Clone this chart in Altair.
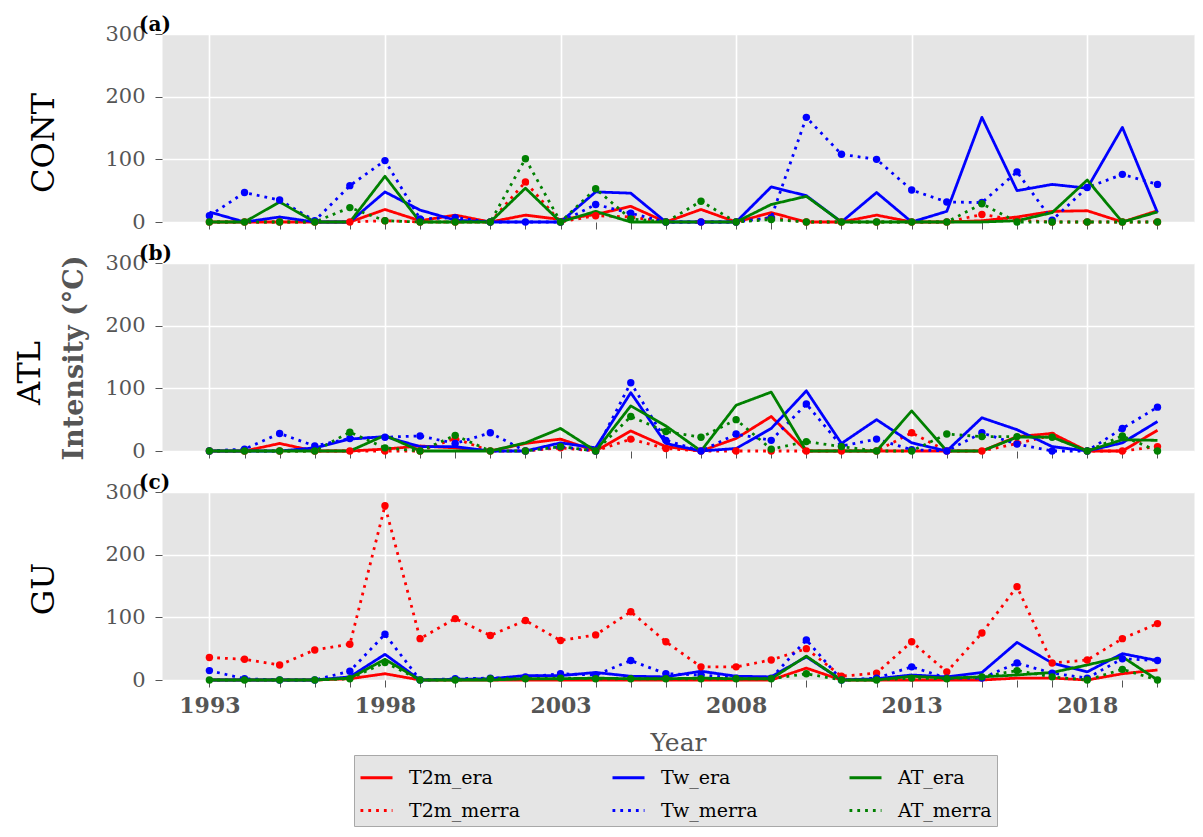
import altair as alt
import pandas as pd

years = list(range(1993, 2021))
series_order = ["T2m_era", "T2m_merra", "Tw_era", "Tw_merra", "AT_era", "AT_merra"]
merra_series = ["T2m_merra", "Tw_merra", "AT_merra"]
line_colors = ["#ff0000", "#ff0000", "#0000ff", "#0000ff", "#008000", "#008000"]
point_colors = ["#ff0000", "#0000ff", "#008000"]
line_dashes = [[1, 0], [2.8, 5], [1, 0], [2.8, 5], [1, 0], [2.8, 5]]

# CONT
cont_t2m_era = [0, 0, 0, 0, 0, 20, 2, 11, 0, 11, 4, 12, 25, 0, 20, 0, 15, 0, 0, 11, 0, 0, 2, 8, 17, 18, 0, 18]
cont_t2m_merra = [0, 0, 0, 0, 0, 2, 0, 0, 0, 64, 0, 10, 8, 0, 0, 0, 7, 0, 0, 0, 0, 0, 12, 3, 0, 0, 0, 0]
cont_tw_era = [16, 0, 8, 0, 0, 48, 19, 3, 0, 0, 0, 48, 46, 0, 0, 0, 56, 42, 0, 47, 0, 17, 167, 50, 60, 54, 151, 15]
cont_tw_merra = [10, 47, 35, 2, 58, 98, 5, 7, 0, 0, 0, 28, 14, 0, 0, 0, 7, 167, 108, 100, 51, 32, 31, 80, 3, 55, 76, 60]
cont_at_era = [0, 0, 32, 0, 0, 73, 0, 0, 0, 54, 0, 17, 0, 0, 0, 0, 28, 41, 0, 0, 0, 0, 0, 2, 15, 67, 0, 16]
cont_at_merra = [0, 0, 0, 0, 23, 2, 0, 0, 0, 101, 0, 53, 5, 0, 33, 0, 4, 0, 0, 0, 0, 0, 29, 0, 0, 0, 0, 0]

# ATL
atl_t2m_era = [0, 0, 12, 0, 0, 3, 8, 5, 0, 12, 19, 0, 32, 7, 0, 20, 55, 0, 0, 0, 0, 0, 0, 23, 28, 0, 0, 33]
atl_t2m_merra = [0, 0, 0, 0, 0, 0, 0, 20, 0, 0, 5, 0, 19, 4, 0, 0, 0, 0, 0, 0, 29, 0, 0, 12, 25, 0, 0, 7]
atl_tw_era = [0, 0, 0, 5, 19, 23, 7, 7, 0, 0, 13, 5, 93, 12, 0, 4, 36, 96, 12, 50, 13, 0, 53, 34, 7, 0, 13, 47]
atl_tw_merra = [0, 3, 28, 8, 20, 22, 24, 12, 29, 0, 7, 0, 109, 17, 0, 27, 17, 75, 8, 19, 2, 0, 29, 11, 0, 0, 36, 70]
atl_at_era = [0, 0, 0, 0, 0, 25, 0, 0, 0, 13, 36, 0, 72, 40, 0, 73, 94, 0, 0, 0, 64, 0, 0, 22, 22, 0, 18, 17]
atl_at_merra = [0, 0, 0, 0, 30, 5, 0, 25, 0, 0, 7, 0, 55, 31, 22, 50, 3, 15, 7, 0, 0, 27, 23, 23, 22, 0, 24, 0]

# GU
gu_t2m_era = [0, 0, 0, 0, 2, 10, 0, 0, 0, 0, 0, 0, 0, 0, 0, 0, 0, 19, 0, 0, 0, 0, 0, 3, 3, 0, 10, 16]
gu_t2m_merra = [36, 33, 24, 48, 57, 278, 66, 98, 71, 95, 63, 72, 109, 61, 21, 21, 32, 50, 6, 11, 61, 13, 75, 149, 27, 32, 66, 90]
gu_tw_era = [0, 0, 0, 0, 5, 41, 0, 1, 2, 7, 7, 12, 6, 5, 14, 6, 5, 37, 0, 2, 8, 5, 12, 60, 27, 13, 42, 31]
gu_tw_merra = [15, 2, 0, 0, 14, 73, 0, 2, 3, 5, 10, 8, 31, 10, 8, 3, 3, 64, 0, 3, 21, 3, 3, 27, 11, 3, 34, 31]
gu_at_era = [0, 0, 0, 0, 3, 33, 0, 0, 0, 2, 2, 3, 2, 2, 3, 2, 2, 38, 0, 0, 6, 3, 5, 8, 12, 24, 37, 0]
gu_at_merra = [0, 0, 0, 0, 2, 28, 0, 0, 2, 2, 3, 2, 2, 2, 2, 2, 2, 10, 0, 0, 3, 2, 5, 15, 5, 0, 17, 0]

panels = [
    ("CONT", "(a)", {"T2m_era": cont_t2m_era, "T2m_merra": cont_t2m_merra, "Tw_era": cont_tw_era,
                     "Tw_merra": cont_tw_merra, "AT_era": cont_at_era, "AT_merra": cont_at_merra}),
    ("ATL", "(b)", {"T2m_era": atl_t2m_era, "T2m_merra": atl_t2m_merra, "Tw_era": atl_tw_era,
                    "Tw_merra": atl_tw_merra, "AT_era": atl_at_era, "AT_merra": atl_at_merra}),
    ("GU", "(c)", {"T2m_era": gu_t2m_era, "T2m_merra": gu_t2m_merra, "Tw_era": gu_tw_era,
                   "Tw_merra": gu_tw_merra, "AT_era": gu_at_era, "AT_merra": gu_at_merra}),
]
region_label_x = [-118, -132, -118]
region_label_y = [109, 110, 97]

SERIF = "DejaVu Serif"
GRAY = "#555555"
W = 1032
H = 188

legend = alt.Legend(
    title=None, orient="none", legendX=192, legendY=721, columns=3, direction="vertical",
    symbolType="stroke", symbolSize=1024, symbolStrokeWidth=2.8,
    labelFont=SERIF, labelFontSize=19, labelColor="black", labelOffset=15,
    fillColor="#e5e5e5", strokeColor="#a8a8a8", padding=5,
    rowPadding=5, columnPadding=85,
)

grid_cond = {"condition": {"test": "(datum.value - 1993) % 5 === 0", "value": 1}, "value": 0}


def make_panel(idx, region, tag, data):
    rows = []
    for s in series_order:
        for yr, v in zip(years, data[s]):
            rows.append({"year": yr, "value": v, "series": s})
    df = pd.DataFrame(rows)
    last = idx == 2
    if last:
        xaxis = alt.Axis(values=years, title="Year", grid=True, gridColor="white", gridWidth=1.6,
                         gridOpacity=grid_cond, domain=False, tickColor=GRAY, tickSize=7,
                         labelExpr="(datum.value - 1993) % 5 === 0 ? datum.value : ''",
                         labelFont=SERIF, labelFontSize=22, labelFontWeight="bold", labelColor=GRAY,
                         labelPadding=8, labelFlush=False, labelOverlap=False,
                         titleFont=SERIF, titleFontSize=25, titleFontWeight="normal", titleColor=GRAY,
                         titlePadding=14)
    else:
        xaxis = alt.Axis(values=years, title=None, grid=True, gridColor="white", gridWidth=1.6,
                         gridOpacity=grid_cond, domain=False, tickColor=GRAY, tickSize=7, labels=False)
    yaxis = alt.Axis(values=[0, 100, 200, 300], title=None, grid=True, gridColor="white", gridWidth=1.6,
                     domain=False, tickColor=GRAY, tickSize=7, labelFont=SERIF, labelFontSize=21,
                     labelColor=GRAY, labelPadding=10, labelFlush=False)
    x = alt.X("year:Q", scale=alt.Scale(domain=[1991.65, 2021.04], nice=False, zero=False), axis=xaxis)
    y = alt.Y("value:Q", scale=alt.Scale(domain=[0, 300], nice=False), axis=yaxis)

    base = alt.Chart(df)
    lines = base.mark_line(strokeWidth=2.8, strokeJoin="round").encode(
        x=x, y=y,
        color=alt.Color("series:N", scale=alt.Scale(domain=series_order, range=line_colors), legend=legend),
        strokeDash=alt.StrokeDash("series:N", scale=alt.Scale(domain=series_order, range=line_dashes), legend=legend),
    )
    pts = base.transform_filter(alt.FieldOneOfPredicate(field="series", oneOf=merra_series)).mark_circle(
        size=55, opacity=1).encode(
        x=x, y=y,
        fill=alt.Fill("series:N", scale=alt.Scale(domain=merra_series, range=point_colors), legend=None),
    )
    tag_txt = alt.Chart(pd.DataFrame({"t": [tag]})).mark_text(
        font=SERIF, fontSize=20, fontWeight="bold", color="black", align="left", baseline="middle"
    ).encode(text="t:N", x=alt.value(-23), y=alt.value(-9))
    reg_txt = alt.Chart(pd.DataFrame({"t": [region]})).mark_text(
        font=SERIF, fontSize=32, color="black", align="center", baseline="middle", angle=270
    ).encode(text="t:N", x=alt.value(region_label_x[idx]), y=alt.value(region_label_y[idx]))
    layers = [lines, pts, tag_txt, reg_txt]
    if idx == 1:
        ylab = alt.Chart(pd.DataFrame({"t": ["Intensity (°C)"]})).mark_text(
            font=SERIF, fontSize=27, fontWeight="bold", color=GRAY, align="center", baseline="middle", angle=270
        ).encode(text="t:N", x=alt.value(-87), y=alt.value(95))
        layers.append(ylab)
    return alt.layer(*layers).properties(width=W, height=H)


charts = [make_panel(i, r, t, d) for i, (r, t, d) in enumerate(panels)]

chart = alt.vconcat(*charts, spacing=41, bounds="flush").properties(
    padding={"left": 5, "top": 6, "right": 0, "bottom": 0}
).configure_view(fill="#e5e5e5", stroke="transparent")

chart.save("out.html", embed_options={"renderer": "svg", "actions": False})
